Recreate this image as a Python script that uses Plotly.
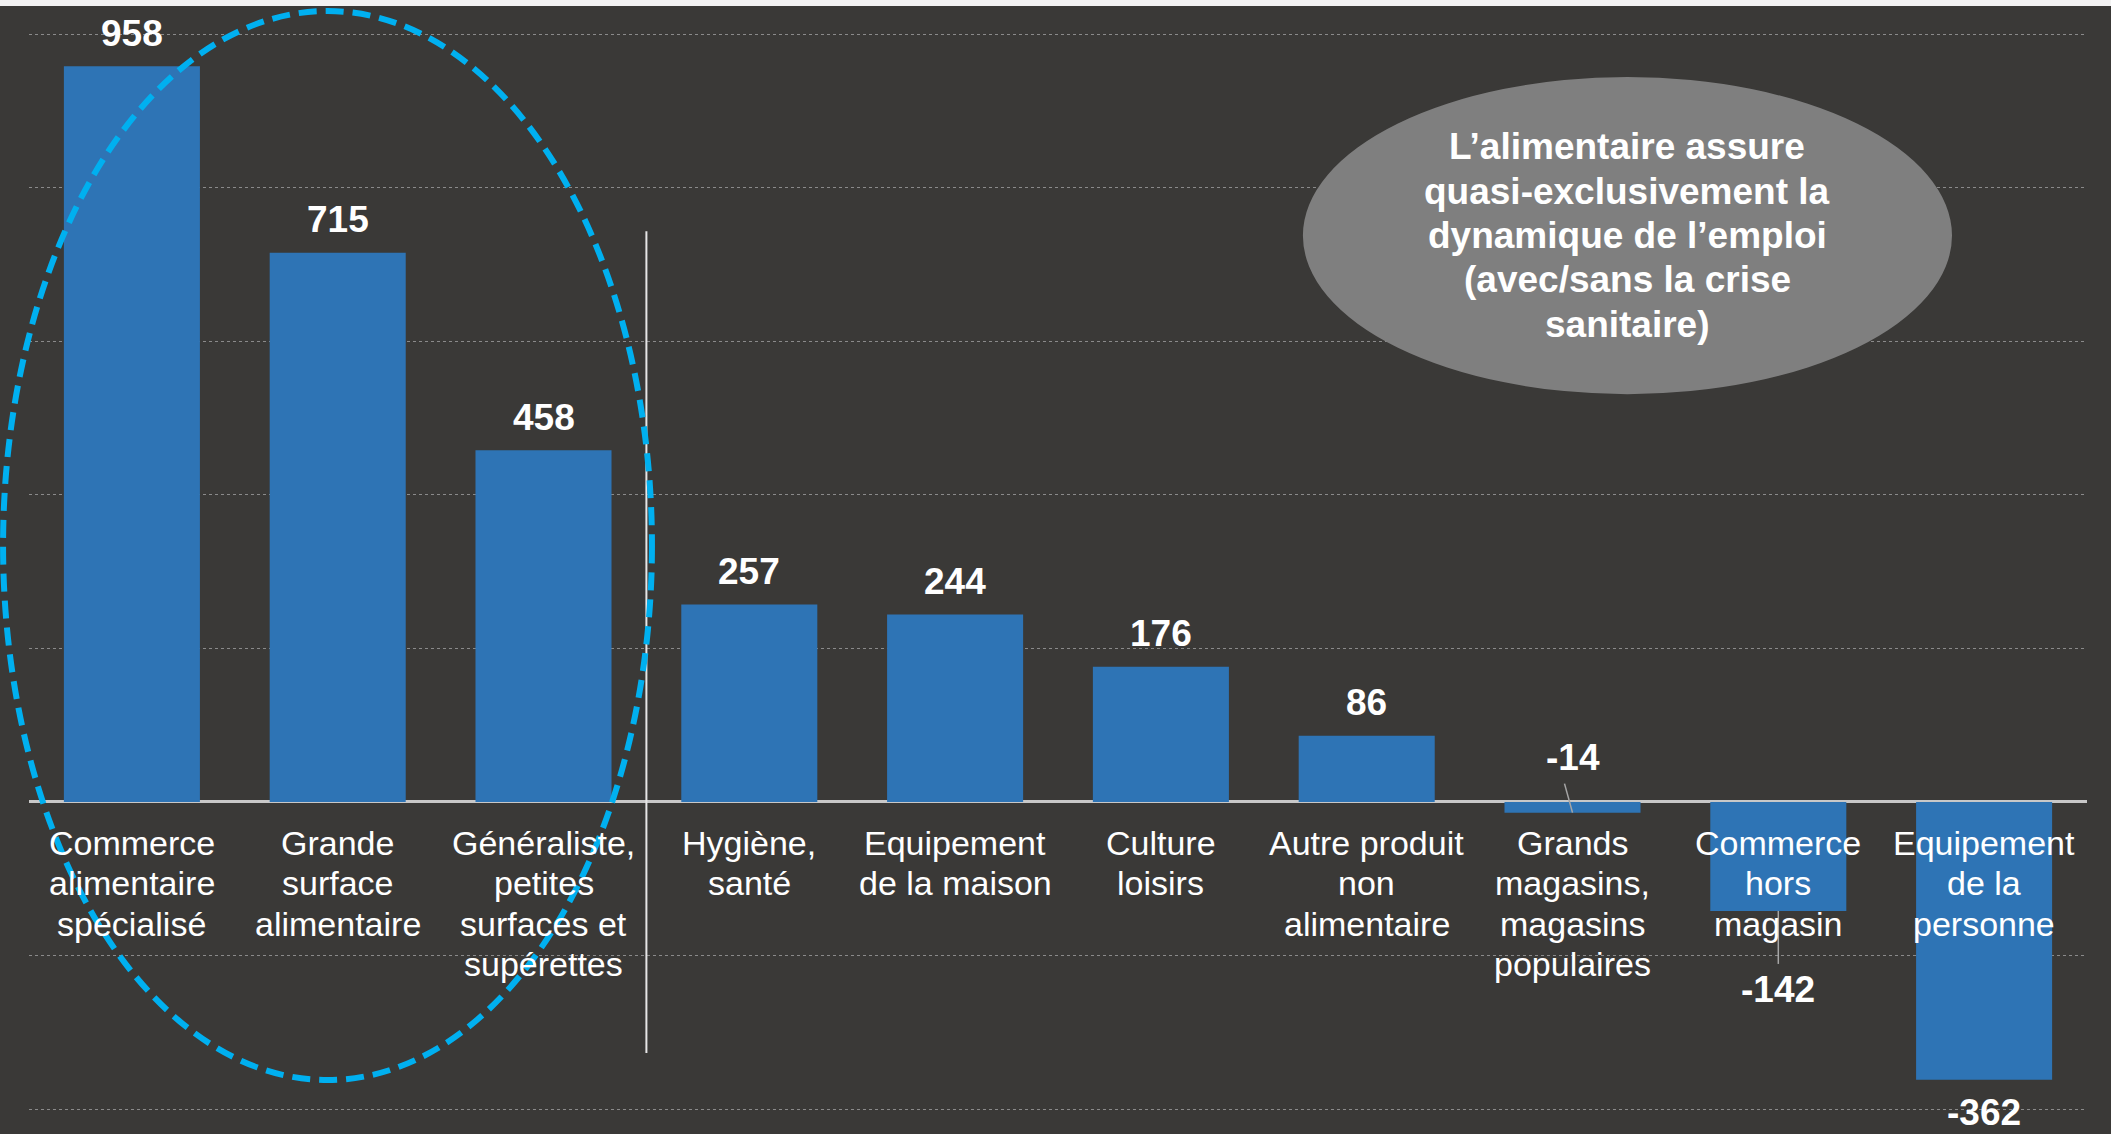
import plotly.graph_objects as go

# ---- data ----
categories = [
    "Commerce alimentaire spécialisé",
    "Grande surface alimentaire",
    "Généraliste, petites surfaces et supérettes",
    "Hygiène, santé",
    "Equipement de la maison",
    "Culture loisirs",
    "Autre produit non alimentaire",
    "Grands magasins, magasins populaires",
    "Commerce hors magasin",
    "Equipement de la personne",
]
label_lines = [
    ["Commerce", "alimentaire", "spécialisé"],
    ["Grande", "surface", "alimentaire"],
    ["Généraliste,", "petites", "surfaces et", "supérettes"],
    ["Hygiène,", "santé"],
    ["Equipement", "de la maison"],
    ["Culture", "loisirs"],
    ["Autre produit", "non", "alimentaire"],
    ["Grands", "magasins,", "magasins", "populaires"],
    ["Commerce", "hors", "magasin"],
    ["Equipement", "de la", "personne"],
]
values = [958, 715, 458, 257, 244, 176, 86, -14, -142, -362]
callout_lines = [
    "L’alimentaire assure",
    "quasi-exclusivement la",
    "dynamique de l’emploi",
    "(avec/sans la crise",
    "sanitaire)",
]

# ---- style ----
BG = "#3a3937"
BAR = "#2e74b5"
FONT = "Liberation Sans, Arial, sans-serif"
# pixel offsets of value labels (from bar end)
label_shift = [33, 33, 33, 33, 33, 33, 33, 55, -79, -33]

idx = list(range(len(categories)))

fig = go.Figure()
fig.add_trace(go.Bar(
    x=idx, y=values, marker=dict(color=BAR, line=dict(width=0)),
    customdata=categories, hovertemplate="%{customdata}: %{y}<extra></extra>",
))

annotations = []
# value labels
for i, v in enumerate(values):
    annotations.append(dict(
        x=i, y=v, xref="x", yref="y", text=str(v), showarrow=False,
        yanchor="middle", xanchor="center", yshift=label_shift[i],
        font=dict(family=FONT, size=37, color="white", weight="bold"),
    ))
# category labels (one annotation per line for PowerPoint-like line spacing)
for i, lines in enumerate(label_lines):
    for j, ln in enumerate(lines):
        annotations.append(dict(
            x=i, y=0, xref="x", yref="y", text=ln, showarrow=False,
            yanchor="middle", xanchor="center", yshift=-(41 + j * 40.4),
            font=dict(family=FONT, size=34, color="white"),
        ))
# callout text
cx, cy = (5.69 + 8.844) / 2, (944 + 531) / 2
n = len(callout_lines)
for j, ln in enumerate(callout_lines):
    annotations.append(dict(
        x=cx, y=cy, xref="x", yref="y", text=ln, showarrow=False,
        yanchor="middle", xanchor="center",
        yshift=((n - 1) / 2 - j) * 44.4,
        font=dict(family=FONT, size=37, color="white", weight="bold"),
    ))

shapes = [
    # top white strip (slide edge)
    dict(type="rect", xref="paper", yref="paper", x0=-0.02, x1=1.02,
         y0=1 - 6 / 1134, y1=1.01, fillcolor="#f2f2f2", line=dict(width=0),
         layer="above"),
    # separator line
    dict(type="line", xref="x", yref="y", x0=2.5, x1=2.5, y0=743, y1=-327,
         line=dict(color="#e6e6e6", width=2), layer="above"),
    # dashed ellipse around food categories (paper refs so it is not clipped)
    dict(type="circle", xref="paper", yref="paper", x0=-0.0126, x1=0.3027,
         y0=0.0476, y1=0.9903,
         line=dict(color="#00b0f0", width=6, dash="18px,9px"),
         fillcolor="rgba(0,0,0,0)", layer="above"),
    # grey callout ellipse
    dict(type="circle", xref="x", yref="y", x0=5.69, x1=8.844, y0=531, y1=944,
         fillcolor="#7f7f7f", line=dict(width=0), layer="above"),
    # leader line for -14
    dict(type="line", xref="x", yref="y", xsizemode="pixel", ysizemode="pixel",
         xanchor=7, yanchor=values[7], x0=0, x1=-8, y0=0, y1=29,
         line=dict(color="#a6a6a6", width=1.5), layer="above"),
    # leader line for -142
    dict(type="line", xref="x", yref="y", xsizemode="pixel", ysizemode="pixel",
         xanchor=8, yanchor=values[8], x0=0, x1=0, y0=0, y1=-53,
         line=dict(color="#a6a6a6", width=1.5), layer="above"),
]

fig.update_layout(
    width=2111, height=1134,
    margin=dict(l=29, r=24, t=0, b=0),
    paper_bgcolor=BG, plot_bgcolor=BG,
    bargap=0.339, showlegend=False,
    annotations=annotations, shapes=shapes,
    xaxis=dict(range=[-0.5, 9.5], showticklabels=False, showgrid=False,
               zeroline=False, showline=False, ticks=""),
    yaxis=dict(range=[-432.5, 1044.3], dtick=200, tick0=0,
               showticklabels=False, showgrid=True, gridcolor="#8a8a8a",
               gridwidth=1, griddash="dot", zeroline=True,
               zerolinecolor="#c8c8c8", zerolinewidth=2.5, ticks=""),
    font=dict(family=FONT, color="white"),
)

fig.write_html(
    "out.html",
    config={"displayModeBar": False},
    post_script="document.body.style.margin='0';document.body.style.overflow='hidden';",
)
